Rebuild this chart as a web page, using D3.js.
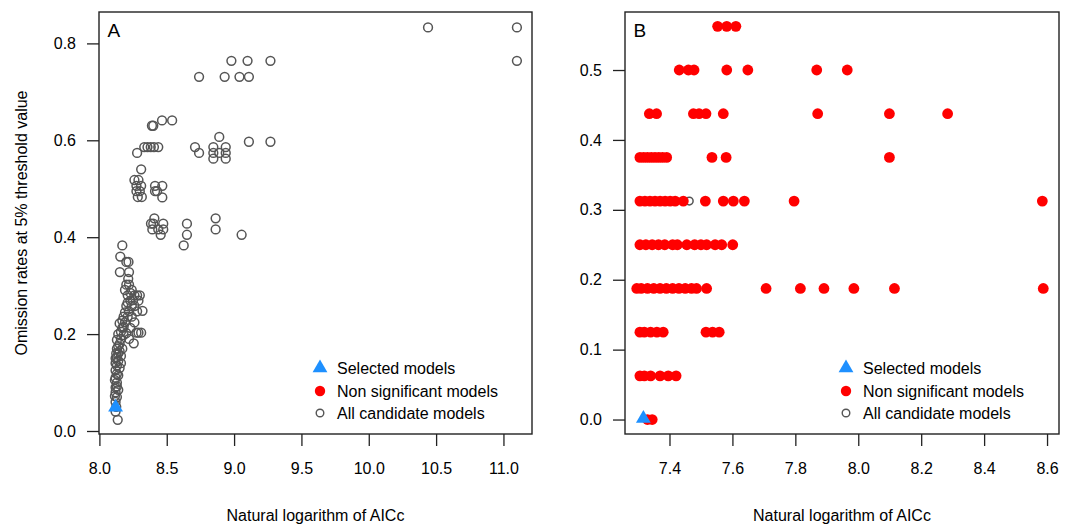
<!DOCTYPE html>
<html>
<head>
<meta charset="utf-8">
<script src="https://cdn.jsdelivr.net/npm/d3@7"></script>
<style>
  body { margin: 0; background: #fff; }
  text { font-family: "Liberation Sans", Arial, sans-serif; fill: #000; }
</style>
</head>
<body>
<script>
// panel A : all candidate models (natural log AICc, omission rate)
var candidatesA = [
  [10.44, .833], [11.10, .833], [11.10, .764],
  [8.98, .764], [9.10, .764], [9.27, .764],
  [8.74, .731], [8.93, .731], [9.04, .731], [9.11, .731],
  [8.39, .630], [8.40, .630], [8.465, .641], [8.54, .641],
  [8.28, .574], [8.333, .586], [8.357, .586], [8.381, .586], [8.405, .586], [8.437, .586],
  [8.31, .540],
  [8.26, .518], [8.275, .506], [8.29, .518], [8.31, .506], [8.275, .495], [8.285, .483], [8.30, .495], [8.315, .483],
  [8.413, .506], [8.467, .506], [8.413, .495], [8.428, .495], [8.467, .482],
  [8.71, .586], [8.74, .574], [8.89, .607],
  [8.846, .586], [8.938, .586], [8.846, .574], [8.89, .574], [8.938, .574], [8.846, .562], [8.938, .562],
  [9.11, .597], [9.27, .597],
  [8.408, .439], [8.383, .428], [8.40, .428], [8.474, .428], [8.393, .416], [8.437, .416], [8.474, .416], [8.455, .405],
  [8.65, .428], [8.65, .405], [8.626, .383], [8.863, .439], [8.863, .416], [9.056, .405],
  [8.17, .383], [8.155, .360], [8.20, .349], [8.216, .349], [8.152, .328], [8.22, .328], [8.214, .314],
  [8.20, .302], [8.22, .302], [8.24, .291], [8.19, .291], [8.26, .280], [8.21, .280], [8.23, .269], [8.28, .280],
  [8.30, .280], [8.24, .258], [8.26, .258], [8.20, .258], [8.22, .247], [8.29, .269], [8.32, .248], [8.28, .247],
  [8.18, .236], [8.21, .236], [8.24, .236], [8.26, .224], [8.19, .224], [8.23, .213], [8.17, .213], [8.20, .202],
  [8.275, .203], [8.29, .203], [8.31, .203], [8.255, .181], [8.22, .190], [8.16, .190], [8.18, .198], [8.14, .200],
  [8.15, .180], [8.13, .170], [8.17, .170], [8.14, .160], [8.16, .155], [8.12, .150], [8.14, .145], [8.13, .135],
  [8.15, .130], [8.12, .125], [8.14, .115], [8.12, .110], [8.13, .100], [8.12, .090], [8.14, .085], [8.12, .080],
  [8.13, .070], [8.12, .060], [8.125, .050], [8.12, .040], [8.136, .023], [8.16, .205], [8.18, .215], [8.15, .222],
  [8.13, .188], [8.15, .165], [8.13, .152], [8.12, .140], [8.13, .118], [8.115, .105], [8.13, .092], [8.115, .072],
  [8.17, .228], [8.19, .245], [8.21, .265], [8.23, .285], [8.25, .270], [8.14, .175], [8.16, .140], [8.125, .160]
];
var selectedA = [[8.12, .047]];
var nonSignifA = [];

// panel B
var candidatesB = [[7.463, .3125]];
var selectedB = [[7.317, 0]];
var nonSignifB = [
  [7.553, .5625], [7.582, .5625], [7.611, .5625],
  [7.431, .5], [7.460, .5], [7.478, .5], [7.582, .5], [7.649, .5], [7.868, .5], [7.965, .5],
  [7.336, .4375], [7.359, .4375], [7.476, .4375], [7.494, .4375], [7.516, .4375], [7.571, .4375], [7.871, .4375], [8.099, .4375], [8.284, .4375],
  [7.306, .375], [7.318, .375], [7.33, .375], [7.342, .375], [7.354, .375], [7.366, .375], [7.378, .375], [7.391, .375], [7.535, .375], [7.58, .375], [8.099, .375],
  [7.306, .3125], [7.322, .3125], [7.338, .3125], [7.354, .3125], [7.37, .3125], [7.386, .3125], [7.402, .3125], [7.418, .3125], [7.444, .3125],
  [7.514, .3125], [7.571, .3125], [7.603, .3125], [7.638, .3125], [7.796, .3125], [8.585, .3125],
  [7.306, .25], [7.325, .25], [7.345, .25], [7.365, .25], [7.385, .25], [7.41, .25], [7.425, .25], [7.455, .25], [7.48, .25], [7.50, .25], [7.518, .25],
  [7.545, .25], [7.566, .25], [7.601, .25],
  [7.296, .1875], [7.31, .1875], [7.33, .1875], [7.35, .1875], [7.37, .1875], [7.39, .1875], [7.41, .1875], [7.43, .1875], [7.45, .1875], [7.47, .1875], [7.486, .1875],
  [7.518, .1875], [7.707, .1875], [7.816, .1875], [7.891, .1875], [7.986, .1875], [8.115, .1875], [8.588, .1875],
  [7.306, .125], [7.32, .125], [7.34, .125], [7.36, .125], [7.38, .125], [7.516, .125], [7.537, .125], [7.558, .125],
  [7.306, .0625], [7.32, .0625], [7.34, .0625], [7.37, .0625], [7.396, .0625], [7.421, .0625],
  [7.33, 0], [7.345, 0]
];

var xTicksA = [8.0, 8.5, 9.0, 9.5, 10.0, 10.5, 11.0];
var yTicksA = [0.0, 0.2, 0.4, 0.6, 0.8];
var xTicksB = [7.4, 7.6, 7.8, 8.0, 8.2, 8.4, 8.6];
var yTicksB = [0.0, 0.1, 0.2, 0.3, 0.4, 0.5];
var legendLabels = ["Selected models", "Non significant models", "All candidate models"];

var svg = d3.select("body").append("svg").attr("width", 1075).attr("height", 525);

function panel(opt) {
  var x = d3.scaleLinear().domain(opt.xd).range([opt.left, opt.right]);
  var y = d3.scaleLinear().domain(opt.yd).range([434, 12]);
  var g = svg.append("g");

  var ax = g.append("g").attr("transform", "translate(0,434)")
    .call(d3.axisBottom(x).tickValues(opt.xt).tickFormat(d3.format(".1f")).tickSize(12).tickPadding(17));
  var ay = g.append("g").attr("transform", "translate(" + opt.left + ",0)")
    .call(d3.axisLeft(y).tickValues(opt.yt).tickFormat(d3.format(".1f")).tickSize(12).tickPadding(11));
  [ax, ay].forEach(function(a) {
    a.select(".domain").remove();
    a.selectAll("line").attr("stroke", "#222").attr("stroke-width", 1.3);
    a.selectAll("text").attr("font-size", 16).attr("font-family", "Liberation Sans, Arial, sans-serif");
  });

  g.selectAll("circle.cand").data(opt.cand).enter().append("circle")
    .attr("cx", function(d) { return x(d[0]); })
    .attr("cy", function(d) { return y(d[1]); })
    .attr("r", opt.candR)
    .attr("fill", "none").attr("stroke", "#555").attr("stroke-width", 1.5);

  g.selectAll("circle.ns").data(opt.ns).enter().append("circle")
    .attr("cx", function(d) { return x(d[0]); })
    .attr("cy", function(d) { return y(d[1]); })
    .attr("r", 5.4).attr("fill", "#ff0000");

  var tri = d3.symbol().type(d3.symbolTriangle).size(95);
  g.selectAll("path.sel").data(opt.sel).enter().append("path")
    .attr("d", tri)
    .attr("transform", function(d) { return "translate(" + x(d[0]) + "," + (y(d[1]) - 1) + ")"; })
    .attr("fill", "#1e90ff");

  g.append("rect").attr("x", opt.left).attr("y", 12)
    .attr("width", opt.right - opt.left).attr("height", 422)
    .attr("fill", "none").attr("stroke", "#222").attr("stroke-width", 1.4);

  g.append("text").attr("x", opt.left + 8.5).attr("y", 37).attr("font-size", 19).text(opt.tag);

  g.append("text").attr("x", (opt.left + opt.right) / 2).attr("y", 521)
    .attr("text-anchor", "middle").attr("font-size", 16).text("Natural logarithm of AICc");

  // legend
  var lx = opt.legX, rows = [368, 391, 413];
  g.append("path").attr("d", tri).attr("transform", "translate(" + lx + "," + rows[0] + ")").attr("fill", "#1e90ff");
  g.append("circle").attr("cx", lx).attr("cy", rows[1]).attr("r", 5.2).attr("fill", "#ff0000");
  g.append("circle").attr("cx", lx).attr("cy", rows[2]).attr("r", 3.8)
    .attr("fill", "none").attr("stroke", "#555").attr("stroke-width", 1.4);
  g.selectAll("text.leg").data(legendLabels).enter().append("text")
    .attr("x", lx + 17).attr("y", function(d, i) { return rows[i] + 6; })
    .attr("font-size", 16).text(function(d) { return d; });
}

panel({ left: 99, right: 532, xd: [7.997, 11.212], yd: [-0.0062, 0.8648], xt: xTicksA, yt: yTicksA,
  cand: candidatesA, ns: nonSignifA, sel: selectedA, candR: 4.4, tag: "A", legX: 320 });
panel({ left: 625, right: 1059, xd: [7.2586, 8.638], yd: [-0.0207, 0.583], xt: xTicksB, yt: yTicksB,
  cand: candidatesB, ns: nonSignifB, sel: selectedB, candR: 3.8, tag: "B", legX: 846 });

svg.append("text").attr("transform", "translate(27,223) rotate(-90)")
  .attr("text-anchor", "middle").attr("font-size", 16).text("Omission rates at 5% threshold value");
</script>
</body>
</html>
